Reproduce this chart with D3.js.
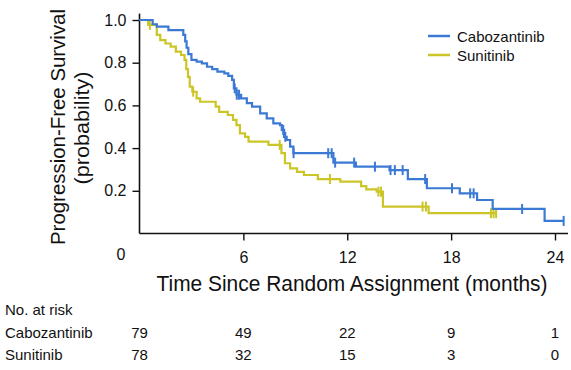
<!DOCTYPE html>
<meta charset="utf-8">
<script src="https://d3js.org/d3.v7.min.js"></script>
<style>
  body { margin: 0; background: #fff; }
  text { font-family: "Liberation Sans", Arial, sans-serif; fill: #111; }
</style>
<body>
<svg width="571" height="370"></svg>
<script>
// Kaplan-Meier step data (months, probability)
const caboTime = [0, 0.76, 1.0, 1.67, 2.53, 2.64, 2.72, 2.82, 3.0, 3.3, 3.6, 3.9, 4.2, 4.5, 4.9, 5.13, 5.35, 5.45, 5.6, 5.87, 6.2, 6.5, 6.97, 7.35, 7.73, 8.12, 8.22, 8.35, 8.5, 8.7, 8.89, 11.2, 12.5, 14.44, 15.5, 16.6, 18.5, 19.5, 20.4, 23.4];
const caboSurv = [1.0, 0.98, 0.969, 0.953, 0.93, 0.9, 0.87, 0.84, 0.813, 0.805, 0.797, 0.781, 0.77, 0.758, 0.75, 0.738, 0.72, 0.68, 0.65, 0.633, 0.611, 0.594, 0.563, 0.539, 0.516, 0.508, 0.485, 0.453, 0.438, 0.407, 0.376, 0.332, 0.313, 0.297, 0.255, 0.212, 0.188, 0.157, 0.115, 0.059];
const caboEnd = 24.5;
const caboCensor = [5.5, 5.62, 5.75, 8.3, 8.42, 8.9, 10.9, 11.1, 11.3, 12.4, 13.6, 14.5, 14.75, 15.2, 16.5, 18.05, 19.1, 19.3, 22.1, 24.5];

const sunTime = [0, 0.5, 1.0, 1.2, 1.5, 1.8, 2.1, 2.4, 2.6, 2.7, 2.8, 2.9, 3.05, 3.3, 3.5, 4.4, 4.6, 5.1, 5.4, 5.6, 5.8, 6.1, 6.3, 7.45, 8.2, 8.4, 8.7, 9.1, 9.5, 10.3, 11.6, 12.8, 13.1, 13.7, 14.06, 16.7];
const sunSurv = [1.0, 0.977, 0.93, 0.906, 0.89, 0.875, 0.852, 0.836, 0.813, 0.77, 0.734, 0.688, 0.664, 0.633, 0.617, 0.594, 0.57, 0.555, 0.532, 0.508, 0.469, 0.453, 0.43, 0.415, 0.376, 0.329, 0.305, 0.289, 0.274, 0.255, 0.243, 0.222, 0.207, 0.196, 0.126, 0.095];
const sunEnd = 20.6;
const sunCensor = [0.6, 3.1, 8.1, 11.0, 13.8, 13.95, 16.35, 16.55, 20.3, 20.45, 20.6];

const xTicks = [6, 12, 18, 24];
const yTicks = [0.2, 0.4, 0.6, 0.8, 1.0];
const riskTimes = [0, 6, 12, 18, 24];
const caboRisk = [79, 49, 22, 9, 1];
const sunRisk = [78, 32, 15, 3, 0];

const blue = '#3b79d4', yellow = '#cbc527';

const svg = d3.select('svg');
const x = d3.scaleLinear().domain([0, 24]).range([139.5, 555]);
const y = d3.scaleLinear().domain([0, 1]).range([233.5, 20]);

// axes
svg.append('line')
    .attr('x1', x(0)).attr('x2', x(0))
    .attr('y1', y(1.03)).attr('y2', y(0))
    .attr('stroke', '#111').attr('stroke-width', 1.6);
svg.append('line')
    .attr('x1', x(0)).attr('x2', x(24.75))
    .attr('y1', y(0)).attr('y2', y(0))
    .attr('stroke', '#111').attr('stroke-width', 1.6);

const yAxis = svg.append('g')
    .attr('transform', `translate(${x(0)},0)`)
    .call(d3.axisLeft(y).tickValues(yTicks).tickFormat(d3.format('.1f')).tickSize(7).tickPadding(6));
yAxis.select('.domain').remove();
yAxis.selectAll('text').style('font-size', '16px');

const xAxis = svg.append('g')
    .attr('transform', `translate(0,${y(0)})`)
    .call(d3.axisBottom(x).tickValues(xTicks).tickSize(7).tickPadding(11));
xAxis.select('.domain').remove();
xAxis.selectAll('text').style('font-size', '16px');
svg.selectAll('.tick line').attr('stroke', '#111').attr('stroke-width', 1.4);

svg.append('text')
    .attr('x', 121).attr('y', 260)
    .attr('text-anchor', 'middle')
    .style('font-size', '16px')
    .text('0');

// axis titles
svg.append('text')
    .attr('x', 352).attr('y', 291)
    .attr('text-anchor', 'middle')
    .attr('textLength', 391).attr('lengthAdjust', 'spacingAndGlyphs')
    .style('font-size', '21.5px')
    .text('Time Since Random Assignment (months)');

svg.append('text')
    .attr('transform', 'translate(65,127) rotate(-90)')
    .attr('text-anchor', 'middle')
    .attr('textLength', 236).attr('lengthAdjust', 'spacingAndGlyphs')
    .style('font-size', '20.5px')
    .text('Progression-Free Survival');

svg.append('text')
    .attr('transform', 'translate(89,128) rotate(-90)')
    .attr('text-anchor', 'middle')
    .attr('textLength', 113).attr('lengthAdjust', 'spacingAndGlyphs')
    .style('font-size', '21px')
    .text('(probability)');

// curves
const line = d3.line().x(d => x(d[0])).y(d => y(d[1])).curve(d3.curveStepAfter);

function km(times, surv, end) {
    const pts = times.map((t, i) => [t, surv[i]]);
    pts.push([end, surv[surv.length - 1]]);
    return pts;
}
function survAt(times, surv, t) {
    let s = surv[0];
    times.forEach((tt, i) => { if (tt <= t) s = surv[i]; });
    return s;
}

const series = [
    {name: 'Sunitinib', times: sunTime, surv: sunSurv, end: sunEnd, censor: sunCensor, color: yellow},
    {name: 'Cabozantinib', times: caboTime, surv: caboSurv, end: caboEnd, censor: caboCensor, color: blue}
];

series.forEach(s => {
    svg.append('path')
        .attr('d', line(km(s.times, s.surv, s.end)))
        .attr('fill', 'none')
        .attr('stroke', s.color)
        .attr('stroke-width', 2.2);
    svg.selectAll(null)
        .data(s.censor)
        .enter().append('line')
        .attr('x1', d => x(d)).attr('x2', d => x(d))
        .attr('y1', d => y(survAt(s.times, s.surv, d)) - 5)
        .attr('y2', d => y(survAt(s.times, s.surv, d)) + 5)
        .attr('stroke', s.color)
        .attr('stroke-width', 2);
});

// legend
const legend = [{name: 'Cabozantinib', color: blue}, {name: 'Sunitinib', color: yellow}];
legend.forEach((d, i) => {
    const ly = 36 + i * 19;
    svg.append('line')
        .attr('x1', 428).attr('x2', 450).attr('y1', ly).attr('y2', ly)
        .attr('stroke', d.color).attr('stroke-width', 2.5);
    svg.append('text')
        .attr('x', 457).attr('y', ly + 5.5)
        .style('font-size', '15px')
        .text(d.name);
});

// number at risk table
svg.append('text').attr('x', 5).attr('y', 315).style('font-size', '15px').text('No. at risk');
[{name: 'Cabozantinib', vals: caboRisk, yy: 338}, {name: 'Sunitinib', vals: sunRisk, yy: 360}].forEach(r => {
    svg.append('text').attr('x', 5).attr('y', r.yy).style('font-size', '15px').text(r.name);
    svg.selectAll(null)
        .data(r.vals)
        .enter().append('text')
        .attr('x', (d, i) => x(riskTimes[i]))
        .attr('y', r.yy)
        .attr('text-anchor', 'middle')
        .style('font-size', '15px')
        .text(d => d);
});
</script>
</body>
